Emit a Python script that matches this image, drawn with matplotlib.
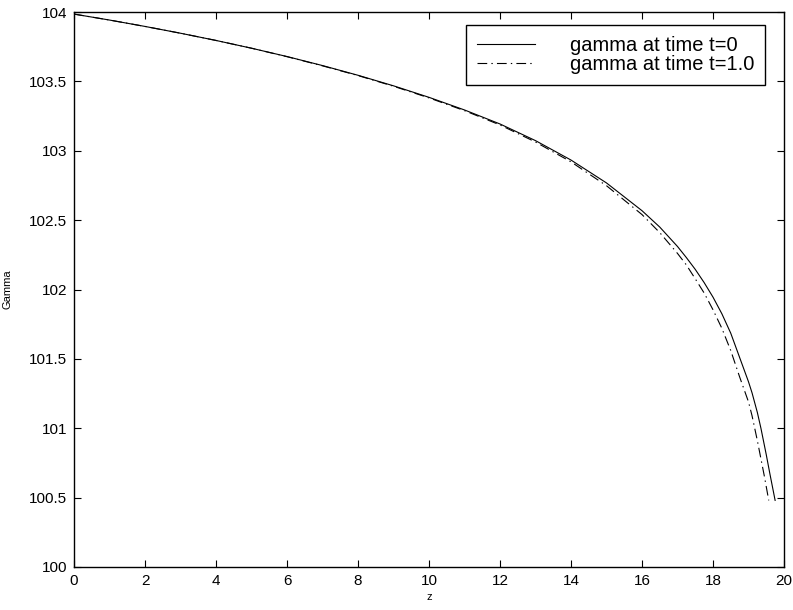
import numpy as np
import matplotlib
matplotlib.use("Agg")
import matplotlib.pyplot as plt

# values
z_t0 = [0, 1, 2, 3, 4, 5, 6, 7, 8, 9, 10, 11, 12, 13, 14, 15, 16, 16.5,
        17, 17.25, 17.5, 17.75, 18, 18.25, 18.5, 18.75, 19, 19.1, 19.25,
        19.35, 19.5, 19.6, 19.75]
gamma_t0 = [103.985, 103.942, 103.896, 103.847, 103.795, 103.739, 103.679,
            103.614, 103.544, 103.468, 103.385, 103.294, 103.193, 103.073,
            102.933, 102.768, 102.568, 102.45, 102.31, 102.23, 102.145,
            102.05, 101.945, 101.825, 101.685, 101.51, 101.335, 101.255,
            101.113, 101.0, 100.81, 100.675, 100.48]

z_t1 = [0, 1, 2, 3, 4, 5, 6, 7, 8, 9, 10, 11, 12, 13, 14, 15, 16, 16.5,
        17, 17.25, 17.5, 17.75, 18, 18.25, 18.5, 18.75, 19, 19.1, 19.25,
        19.35, 19.45, 19.57]
gamma_t1 = [103.985, 103.942, 103.896, 103.847, 103.795, 103.739, 103.678,
            103.612, 103.542, 103.465, 103.381, 103.289, 103.186, 103.063,
            102.92, 102.748, 102.54, 102.41, 102.26, 102.177, 102.077,
            101.975, 101.854, 101.72, 101.56, 101.37, 101.19, 101.09,
            100.91, 100.78, 100.65, 100.48]

labels = ['gamma at time t=0', 'gamma at time t=1.0']
x_ticks = np.arange(0, 21, 2)
y_ticks = np.arange(100, 104.01, 0.5)

plt.rcParams['font.family'] = ['Liberation Sans', 'DejaVu Sans']
plt.rcParams['lines.scale_dashes'] = False

fig = plt.figure(figsize=(7.93, 6.10), dpi=100)
ax = fig.add_axes([74 / 793, 1 - 567 / 610, (784 - 74) / 793, (567 - 12) / 610])

ax.plot(z_t0, gamma_t0, color='black', lw=0.8, label=labels[0])
ax.plot(z_t1, gamma_t1, color='black', lw=0.8, dashes=(7, 3, 1, 3),
        label=labels[1])

ax.set_xlim(0, 20)
ax.set_ylim(100, 104)
ax.set_xticks(x_ticks)
ax.set_yticks(y_ticks)
ax.set_xticklabels([f'{v:g}' for v in x_ticks])
ax.set_yticklabels([f'{v:g}' for v in y_ticks])
ax.tick_params(direction='in', top=True, right=True, length=5, width=0.8,
               labelsize=11, pad=5)
for s in ax.spines.values():
    s.set_linewidth(1.0)

ax.set_xlabel('z', fontsize=8, labelpad=3)
ax.set_ylabel('Gamma', fontsize=8, labelpad=12)

leg = ax.legend(loc='upper right', bbox_to_anchor=(765 / 793, 1 - 25 / 610),
                bbox_transform=fig.transFigure, borderaxespad=0,
                fontsize=14.5, frameon=True, fancybox=False, framealpha=1,
                edgecolor='black', handlelength=2.9, handletextpad=1.7,
                labelspacing=0.0, borderpad=0.55)
leg.get_frame().set_linewidth(1.0)

fig.savefig('out.png', dpi=100)
